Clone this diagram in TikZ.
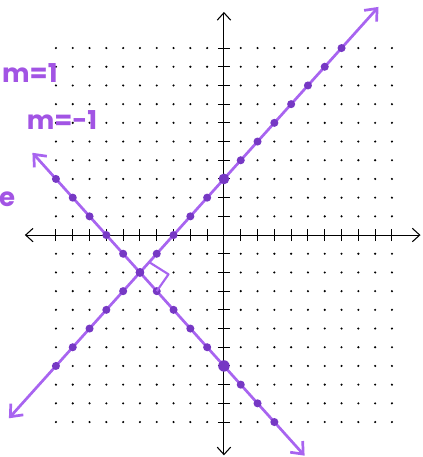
\documentclass[tikz,border=0pt]{standalone}
\usepackage{fontspec}
\setmainfont{Poppins}
\usetikzlibrary{arrows.meta}
\definecolor{linepurple}{RGB}{168,100,240}
\definecolor{dotpurple}{RGB}{118,56,196}
\definecolor{inkpurple}{RGB}{162,84,228}

\begin{document}
\begin{tikzpicture}[x=0.5cm, y=0.5565cm,
  axis/.style={line width=0.9pt, black, {Straight Barb[length=2.2mm,width=4mm]}-{Straight Barb[length=2.2mm,width=4mm]}},
  tickmark/.style={line width=0.8pt, black},
  graphline/.style={line width=2.3pt, linepurple, {Straight Barb[length=3mm,width=5mm]}-{Straight Barb[length=3mm,width=5mm]}},
  slopetext/.style={inkpurple, font=\fontsize{22}{22}\selectfont\bfseries, inner sep=0pt}
]
\useasboundingbox (-13.33,-11.87) rectangle (11.79,12.57);
% dot grid
\foreach \x in {-10,...,10}
  \foreach \y in {-10,...,10} {
    \ifnum\x=0 \else \ifnum\y=0 \else
      \fill (\x,\y) circle (0.035cm);
    \fi\fi
  }
% axes
\coordinate (xl) at (-11.85,0);
\coordinate (xr) at (11.7,0);
\coordinate (yt) at (0,11.93);
\coordinate (yb) at (0,-11.78);
\draw[axis] (xl) -- (xr);
\draw[axis] (yb) -- (yt);
\foreach \k in {-10,...,-1,1,2,...,10} {
  \draw[tickmark] (\k,-0.32) -- (\k,0.32);
  \draw[tickmark] (-0.36,\k) -- (0.36,\k);
}
% m = 1 : y = x + 3
\coordinate (m1a) at (-12.8,-9.8);
\coordinate (m1b) at (9.2,12.2);
\draw[graphline] (m1a) -- (m1b);
\foreach \x in {-10,...,7}
  \fill[dotpurple] (\x,\x+3) circle (0.12cm);
% m = -1 : y = -x - 7
\coordinate (m2a) at (-11.4,4.4);
\coordinate (m2b) at (4.8,-11.8);
\draw[graphline] (m2a) -- (m2b);
\foreach \x in {-10,...,3}
  \fill[dotpurple] (\x,-\x-7) circle (0.12cm);
% intercepts and crossing
\fill[dotpurple] (0,3) circle (0.16cm);
\fill[dotpurple] (0,-7) circle (0.17cm);
\fill[dotpurple] (-5,-2) circle (0.13cm);
% right angle
\draw[linepurple, line width=1.8pt, line join=round] (-4.45,-1.45) -- (-3.3,-2.1) -- (-4,-3);
% slopes
\node[slopetext] (s1) at (-11.55,8.66) {m=1};
\node[slopetext] (s2) at (-9.64,6.15) {m=-1};
\node[slopetext] (cut) at (-12.9,1.9) {e};
\end{tikzpicture}
\end{document}
